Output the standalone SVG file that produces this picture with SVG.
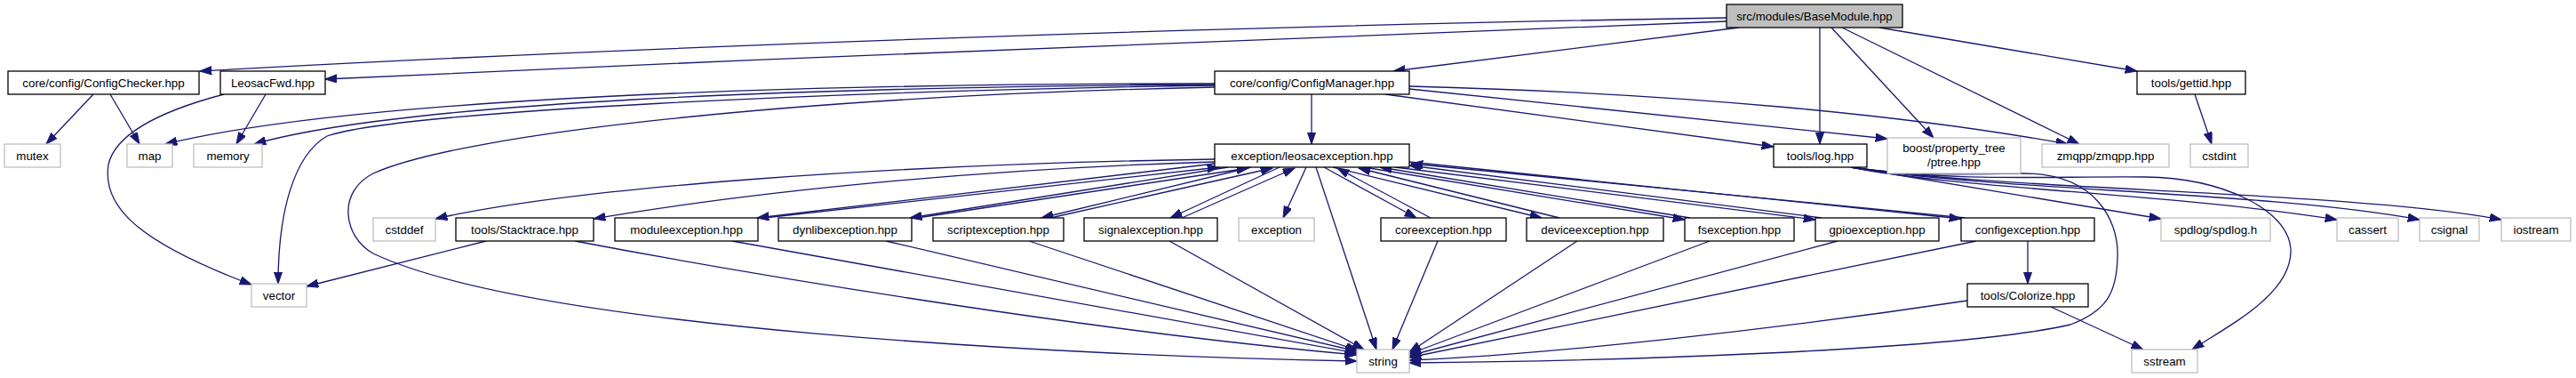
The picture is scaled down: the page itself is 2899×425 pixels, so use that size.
<svg xmlns="http://www.w3.org/2000/svg" width="2899" height="425" viewBox="0 0 2899 425">
<style>
.n rect{fill:#fff;stroke:#000;stroke-width:1.3}
.s rect{fill:#fff;stroke:#bfbfbf;stroke-width:1.3}
.r rect{fill:#bfbfbf;stroke:#000;stroke-width:1.3}
text{font-family:"Liberation Sans",Arial,sans-serif;font-size:13.33px;text-anchor:middle;fill:#000}
#edges path{fill:none;stroke:#191970;stroke-width:1.3;marker-end:url(#a)}
</style>
<defs>
<marker id="a" markerUnits="userSpaceOnUse" markerWidth="14" markerHeight="10" refX="13.3" refY="4.65" orient="auto" viewBox="0 0 14 10">
<path d="M0,0 L13.3,4.65 L0,9.3 z" fill="#191970" stroke="#191970" stroke-width="1"/>
</marker>
</defs>
<rect width="2899" height="425" fill="#fff"/>
<g id="edges">
<path d="M1943,20 C1500,27 800,48 225,80"/>
<path d="M1943,24 C1500,40 900,64 366,89"/>
<path d="M1957,31 L1568,80"/>
<path d="M2048,31 L2048,162"/>
<path d="M2061,31 L2176,155"/>
<path d="M2073,31 L2340,162"/>
<path d="M2115,31 C2200,45 2300,62 2405,80"/>
<path d="M2470,106 L2489,162"/>
<path d="M105,106 L52,162"/>
<path d="M124,106 L157,162"/>
<path d="M299,106 L266,162"/>
<path d="M252,106 C180,125 130,150 122,185 C115,230 150,270 283,320"/>
<path d="M1367,94 C900,94 400,110 186,162"/>
<path d="M1367,95 C900,98 450,115 286,162"/>
<path d="M1367,96 C950,102 450,125 368,153 C330,175 313,240 313,319"/>
<path d="M1367,98 C900,108 520,150 420,195 C380,215 385,265 420,285 C600,370 1200,400 1527,406"/>
<path d="M1476,106 L1476,162"/>
<path d="M1559,106 L1996,165"/>
<path d="M1586,100 L2124,156"/>
<path d="M1586,97 C1900,105 2150,130 2327,162"/>
<path d="M1367,179 C1000,185 650,210 490,246"/>
<path d="M1367,182 C1100,190 850,215 668,246"/>
<path d="M1367,184 L852,245"/>
<path d="M860,245 L1372,188"/>
<path d="M1382,188 L1024,245"/>
<path d="M1032,245 L1405,189"/>
<path d="M1408,188 L1172,245"/>
<path d="M1182,245 L1432,189"/>
<path d="M1440,188 L1317,245"/>
<path d="M1330,245 L1457,189"/>
<path d="M1470,188 L1444,245"/>
<path d="M1481,188 L1549,393"/>
<path d="M1490,188 L1594,245"/>
<path d="M1610,245 L1505,189"/>
<path d="M1500,188 L1735,245"/>
<path d="M1755,245 L1529,189"/>
<path d="M1535,188 L1896,247"/>
<path d="M1902,245 L1553,188"/>
<path d="M1570,188 L2043,247"/>
<path d="M2050,245 L1586,186"/>
<path d="M1586,182 L2207,246"/>
<path d="M2212,245 L1588,184"/>
<path d="M647,271 C800,300 1200,370 1527,399"/>
<path d="M824,271 L1527,397"/>
<path d="M997,271 L1527,395"/>
<path d="M1158,271 L1528,394"/>
<path d="M1316,271 L1535,393"/>
<path d="M1618,271 L1567,393"/>
<path d="M1775,271 L1586,396"/>
<path d="M1924,271 L1586,398"/>
<path d="M2068,271 L1586,400"/>
<path d="M2224,271 L1586,402"/>
<path d="M2214,338 C2000,370 1750,398 1586,405"/>
<path d="M2308,345 L2412,393"/>
<path d="M2282,271 L2282,319"/>
<path d="M547,271 L345,322"/>
<path d="M2083,188 L2432,246"/>
<path d="M2083,188 C2150,198 2200,196 2277,195 C2360,195 2385,250 2383,290 C2382,330 2370,350 2330,365 C2200,395 1800,406 1586,408"/>
<path d="M2083,188 C2200,205 2300,198 2414,199 C2500,200 2575,235 2578,280 C2580,330 2510,365 2467,393"/>
<path d="M2083,188 C2200,212 2450,218 2630,247"/>
<path d="M2083,188 C2250,215 2550,215 2723,247"/>
<path d="M2083,188 C2250,214 2650,215 2815,247"/>
</g>
<g id="BaseModule" class="r"><rect x="1943" y="5" width="198" height="26"/><text x="2042" y="23">src/modules/BaseModule.hpp</text></g>
<g id="ConfigChecker" class="n"><rect x="9" y="80" width="215" height="26"/><text x="116.5" y="98">core/config/ConfigChecker.hpp</text></g>
<g id="LeosacFwd" class="n"><rect x="248" y="80" width="118" height="26"/><text x="307" y="98">LeosacFwd.hpp</text></g>
<g id="ConfigManager" class="n"><rect x="1367" y="80" width="219" height="26"/><text x="1476.5" y="98">core/config/ConfigManager.hpp</text></g>
<g id="gettid" class="n"><rect x="2405" y="80" width="122" height="26"/><text x="2466" y="98">tools/gettid.hpp</text></g>
<g id="mutex" class="s"><rect x="5" y="162" width="63" height="26"/><text x="36.5" y="180">mutex</text></g>
<g id="map" class="s"><rect x="143" y="162" width="51" height="26"/><text x="168.5" y="180">map</text></g>
<g id="memory" class="s"><rect x="218" y="162" width="77" height="26"/><text x="256.5" y="180">memory</text></g>
<g id="leosacexception" class="n"><rect x="1367" y="162" width="219" height="26"/><text x="1476.5" y="180">exception/leosacexception.hpp</text></g>
<g id="log" class="n"><rect x="1996" y="162" width="105" height="26"/><text x="2048.5" y="180">tools/log.hpp</text></g>
<g id="ptree" class="s"><rect x="2124" y="155" width="150" height="40"/><text x="2199" y="171">boost/property_tree</text><text x="2199" y="187">/ptree.hpp</text></g>
<g id="zmqpp" class="s"><rect x="2298" y="162" width="143" height="26"/><text x="2369.5" y="180">zmqpp/zmqpp.hpp</text></g>
<g id="cstdint" class="s"><rect x="2465" y="162" width="65" height="26"/><text x="2497.5" y="180">cstdint</text></g>
<g id="cstddef" class="s"><rect x="420" y="245" width="70" height="26"/><text x="455" y="263">cstddef</text></g>
<g id="Stacktrace" class="n"><rect x="513" y="245" width="155" height="26"/><text x="590.5" y="263">tools/Stacktrace.hpp</text></g>
<g id="moduleexception" class="n"><rect x="692" y="245" width="161" height="26"/><text x="772.5" y="263">moduleexception.hpp</text></g>
<g id="dynlibexception" class="n"><rect x="876" y="245" width="150" height="26"/><text x="951" y="263">dynlibexception.hpp</text></g>
<g id="scriptexception" class="n"><rect x="1050" y="245" width="147" height="26"/><text x="1123.5" y="263">scriptexception.hpp</text></g>
<g id="signalexception" class="n"><rect x="1220" y="245" width="150" height="26"/><text x="1295" y="263">signalexception.hpp</text></g>
<g id="exception" class="s"><rect x="1394" y="245" width="85" height="26"/><text x="1436.5" y="263">exception</text></g>
<g id="coreexception" class="n"><rect x="1554" y="245" width="141" height="26"/><text x="1624.5" y="263">coreexception.hpp</text></g>
<g id="deviceexception" class="n"><rect x="1718" y="245" width="154" height="26"/><text x="1795" y="263">deviceexception.hpp</text></g>
<g id="fsexception" class="n"><rect x="1896" y="245" width="123" height="26"/><text x="1957.5" y="263">fsexception.hpp</text></g>
<g id="gpioexception" class="n"><rect x="2043" y="245" width="139" height="26"/><text x="2112.5" y="263">gpioexception.hpp</text></g>
<g id="configexception" class="n"><rect x="2207" y="245" width="150" height="26"/><text x="2282" y="263">configexception.hpp</text></g>
<g id="spdlog" class="s"><rect x="2432" y="245" width="123" height="26"/><text x="2493.5" y="263">spdlog/spdlog.h</text></g>
<g id="cassert" class="s"><rect x="2630" y="245" width="69" height="26"/><text x="2664.5" y="263">cassert</text></g>
<g id="csignal" class="s"><rect x="2723" y="245" width="67" height="26"/><text x="2756.5" y="263">csignal</text></g>
<g id="iostream" class="s"><rect x="2815" y="245" width="78" height="26"/><text x="2854" y="263">iostream</text></g>
<g id="vector" class="s"><rect x="283" y="319" width="62" height="26"/><text x="314" y="337">vector</text></g>
<g id="Colorize" class="n"><rect x="2214" y="319" width="136" height="26"/><text x="2282" y="337">tools/Colorize.hpp</text></g>
<g id="string" class="s"><rect x="1527" y="393" width="59" height="26"/><text x="1556.5" y="411">string</text></g>
<g id="sstream" class="s"><rect x="2399" y="393" width="74" height="26"/><text x="2436" y="411">sstream</text></g>
</svg>
